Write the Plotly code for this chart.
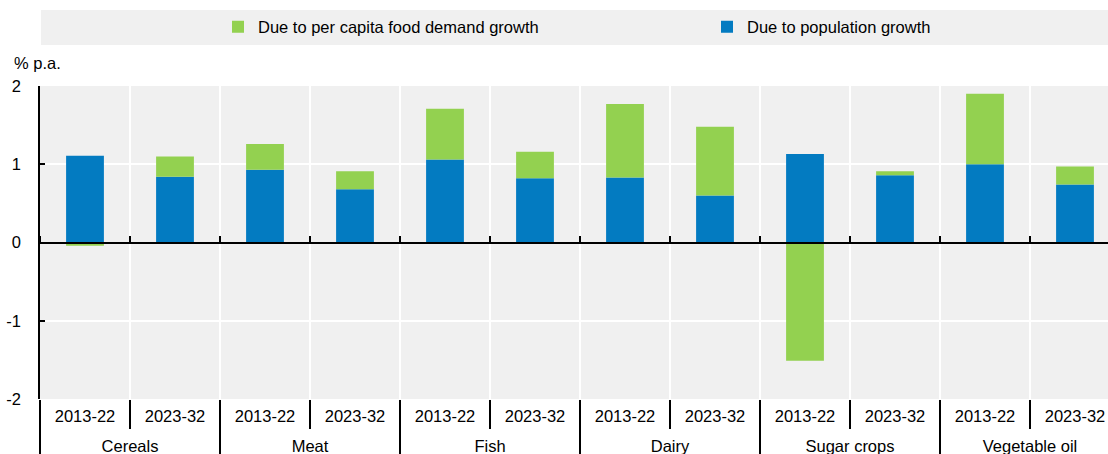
import plotly.graph_objects as go

# ---- data ----
groups = ["Cereals", "Cereals", "Meat", "Meat", "Fish", "Fish",
          "Dairy", "Dairy", "Sugar crops", "Sugar crops", "Vegetable oil", "Vegetable oil"]
periods = ["2013-22", "2023-32"] * 6
population = [1.11, 0.84, 0.93, 0.68, 1.06, 0.82, 0.83, 0.60, 1.13, 0.86, 1.00, 0.74]
per_capita = [-0.04, 0.26, 0.33, 0.23, 0.65, 0.34, 0.94, 0.88, -1.51, 0.05, 0.90, 0.23]
y_ticks = [-2, -1, 0, 1, 2]

BLUE = "#037BC1"
GREEN = "#93D150"
BG = "#F0F0F0"
FONT = "Liberation Sans, Arial, sans-serif"
FS = 16.5

W, H = 1108, 454
L, R, T, B = 40, 0, 86, 55
plot_w = W - L - R
plot_h = H - T - B
slot = 90.0  # px per category

# category positions derived from the data
n = len(periods)
xpos = list(range(n))
bounds = [i - 0.5 for i in range(n + 1)]
group_names = []
group_members = []
for i, g in enumerate(groups):
    if not group_names or group_names[-1] != g:
        group_names.append(g)
        group_members.append([])
    group_members[-1].append(i)
group_centers = [sum(m) / len(m) for m in group_members]
group_bounds = [m[0] - 0.5 for m in group_members] + [group_members[-1][-1] + 0.5]

fig = go.Figure()
fig.add_trace(go.Bar(
    x=xpos, y=population, name="Due to population growth",
    marker=dict(color=BLUE, line=dict(width=0)), width=0.42,
    legendrank=2, legendwidth=240,
    customdata=list(zip(groups, periods)),
    hovertemplate="%{customdata[0]} %{customdata[1]}: %{y}<extra></extra>",
))
fig.add_trace(go.Bar(
    x=xpos, y=per_capita, name="Due to per capita food demand growth",
    marker=dict(color=GREEN, line=dict(width=0)), width=0.42,
    legendrank=1, legendwidth=444,
    customdata=list(zip(groups, periods)),
    hovertemplate="%{customdata[0]} %{customdata[1]}: %{y}<extra></extra>",
))
# helper traces for the overlay axes (zero line ticks, group labels/dividers)
for ax in ("x2", "x3"):
    fig.add_trace(go.Scatter(
        x=xpos, y=[None] * n, xaxis=ax, yaxis="y",
        mode="markers", showlegend=False, hoverinfo="skip",
    ))

def px_y(py):
    return 1 + (T - py) / plot_h

def px_x(px):
    return (px - L) / plot_w

fig.add_shape(type="rect", xref="paper", yref="paper",
              x0=px_x(41), x1=1.0, y0=px_y(45), y1=px_y(10),
              fillcolor=BG, line=dict(width=0), layer="below")

fig.add_annotation(text="% p.a.", xref="paper", yref="paper",
                   x=px_x(12), y=px_y(63), xanchor="left", yanchor="middle",
                   showarrow=False, font=dict(family=FONT, size=FS, color="#000"))

x_range = [-0.5, -0.5 + plot_w / slot]
tickfont = dict(family=FONT, size=FS, color="#000")

fig.update_layout(
    width=W, height=H,
    margin=dict(l=L, r=R, t=T, b=B, autoexpand=False),
    paper_bgcolor="white", plot_bgcolor=BG,
    barmode="relative",
    font=dict(family=FONT, size=FS, color="#000"),
    showlegend=True,
    legend=dict(orientation="h", x=px_x(218), xanchor="left",
                y=px_y(27), yanchor="middle", bgcolor="rgba(0,0,0,0)",
                font=dict(family=FONT, size=FS, color="#000"),
                itemclick=False, itemdoubleclick=False),
    # period labels, short separators and vertical white grid
    xaxis=dict(
        range=x_range, tickmode="array", tickvals=xpos, ticktext=periods,
        ticks="", showgrid=False, showline=False, zeroline=False,
        automargin=False, ticklabelstandoff=5, tickfont=tickfont,
        minor=dict(tickmode="array", tickvals=bounds, ticks="outside", ticklen=29,
                   tickcolor="#000", tickwidth=1.5,
                   showgrid=True, gridcolor="white", gridwidth=1.5),
    ),
    # zero line with small upward ticks
    xaxis2=dict(
        overlaying="x", matches="x", anchor="free", position=0.5, side="top",
        tickmode="array", tickvals=bounds, ticks="outside", ticklen=6,
        tickcolor="#000", tickwidth=1.5,
        showticklabels=False, showgrid=False,
        showline=True, linecolor="#000", linewidth=2, zeroline=False,
    ),
    # group labels and long group dividers
    xaxis3=dict(
        overlaying="x", matches="x", anchor="y", side="bottom",
        tickmode="array", tickvals=group_centers, ticktext=group_names,
        ticks="", showgrid=False, showline=False, zeroline=False,
        automargin=False, ticklabelstandoff=35, tickfont=tickfont,
        minor=dict(tickmode="array", tickvals=group_bounds, ticks="outside", ticklen=60,
                   tickcolor="#000", tickwidth=1.5, showgrid=False),
    ),
    yaxis=dict(
        range=[-2, 2], tickvals=y_ticks, ticktext=[str(v) for v in y_ticks],
        ticks="inside", ticklen=5, tickcolor="#000", tickwidth=1.5,
        showline=True, linecolor="#000", linewidth=1.5,
        showgrid=True, gridcolor="white", gridwidth=1.5,
        zeroline=False, automargin=False, ticklabelstandoff=14,
        tickfont=tickfont,
    ),
)

fig.write_html(
    "out.html",
    config={"displayModeBar": False},
    post_script="document.body.style.margin='0';document.body.style.overflow='hidden';",
)
